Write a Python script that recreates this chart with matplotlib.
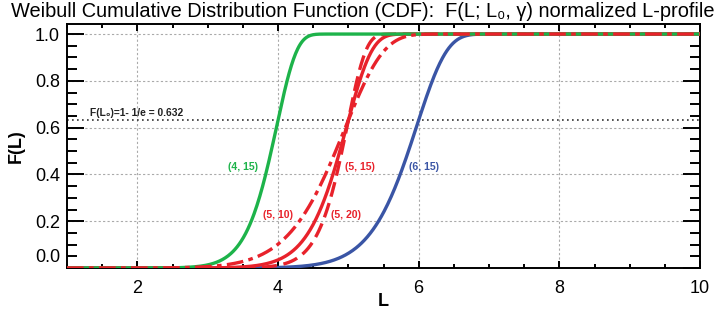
import numpy as np
import matplotlib
matplotlib.use('Agg')
import matplotlib.pyplot as plt
import matplotlib.transforms as mtransforms
from matplotlib.ticker import MultipleLocator

# Weibull parameters (L0, gamma) as labelled in the chart
L0 = [4, 5, 5, 5, 6]
gamma = [15, 15, 20, 10, 15]
labels = ['(4, 15)', '(5, 15)', '(5, 20)', '(5, 10)', '(6, 15)']
colors = ['#1db34a', '#e8222b', '#e8222b', '#e8222b', '#3a55a5']
styles = ['-', '-', '--', '-.', '-']
label_pos = [(3.5, 0.43), (5.17, 0.43), (4.97, 0.225), (4.0, 0.225), (6.08, 0.43)]

F_L0 = 1 - 1 / np.e

L = np.linspace(1, 10, 901)

fig = plt.figure(figsize=(7.26, 3.14), dpi=100)
ax = fig.add_axes([0.0923, 0.1465, 0.8719, 0.7771])

dash_map = {'-': (None, None), '--': (4.5, 2), '-.': (5, 1.6, 1.4, 1.6)}
draw_order = [4, 1, 2, 0, 3]
for i in draw_order:
    F = 1 - np.exp(-(L / L0[i]) ** gamma[i])
    ax.plot(L, F, color=colors[i], lw=2.4, zorder=3, dashes=dash_map[styles[i]])

for i in range(len(labels)):
    ax.text(label_pos[i][0], label_pos[i][1], labels[i], color=colors[i],
            fontsize=7.6, fontweight='bold', family='Liberation Sans',
            ha='center', va='center')

ax.axhline(F_L0, color='#333333', ls=(0, (1, 2)), lw=1.2, zorder=2)
ax.text(1.33, F_L0 + 0.032, 'F(L\u2080)=1- 1/e = 0.632', fontsize=7.4, fontweight='bold',
        family=['Liberation Sans', 'DejaVu Sans'], va='center', ha='left', color='#222222')

ax.set_xlim(1, 10)
ax.set_ylim(0, 1.043)
ax.set_xticks([2, 4, 6, 8, 10])
ax.xaxis.set_minor_locator(MultipleLocator(0.5))
ax.set_yticks([0, 0.2, 0.4, 0.6, 0.8, 1.0])
ax.set_yticklabels(['0.0', '0.2', '0.4', '0.6', '0.8', '1.0'])
ax.yaxis.set_minor_locator(MultipleLocator(0.05))
ax.grid(True, which='major', color='#aaaaaa', ls=(0, (2, 2)), lw=0.8)

ax.tick_params(axis='both', which='both', direction='in', top=True, right=True, width=1.4)
ax.tick_params(axis='y', which='major', length=12, labelsize=13, pad=5)
ax.tick_params(axis='y', which='minor', length=7)
ax.tick_params(axis='x', which='major', length=5, labelsize=13, pad=9)
ax.tick_params(axis='x', which='minor', length=3)
for lab in ax.get_xticklabels() + ax.get_yticklabels():
    lab.set_family('Liberation Sans')
for s in ax.spines.values():
    s.set_linewidth(1.4)

# the 0.0 label sits a little above the bottom axis in the original
lab0 = ax.get_yticklabels()[0]
lab0.set_transform(lab0.get_transform() + mtransforms.ScaledTranslation(0, 12 / 100, fig.dpi_scale_trans))

ax.set_xlabel('L', fontsize=13, fontweight='bold', family='Liberation Sans', labelpad=-3)
ax.set_ylabel('F(L)', fontsize=13, fontweight='bold', family='Liberation Sans', labelpad=7)

fig.text(0.5, 0.962, 'Weibull Cumulative Distribution Function (CDF):  F(L; L\u2080, \u03b3) normalized L-profile',
         ha='center', va='center', fontsize=14.4,
         family=['Liberation Sans', 'DejaVu Sans'])

fig.savefig('out.png', dpi=100)
